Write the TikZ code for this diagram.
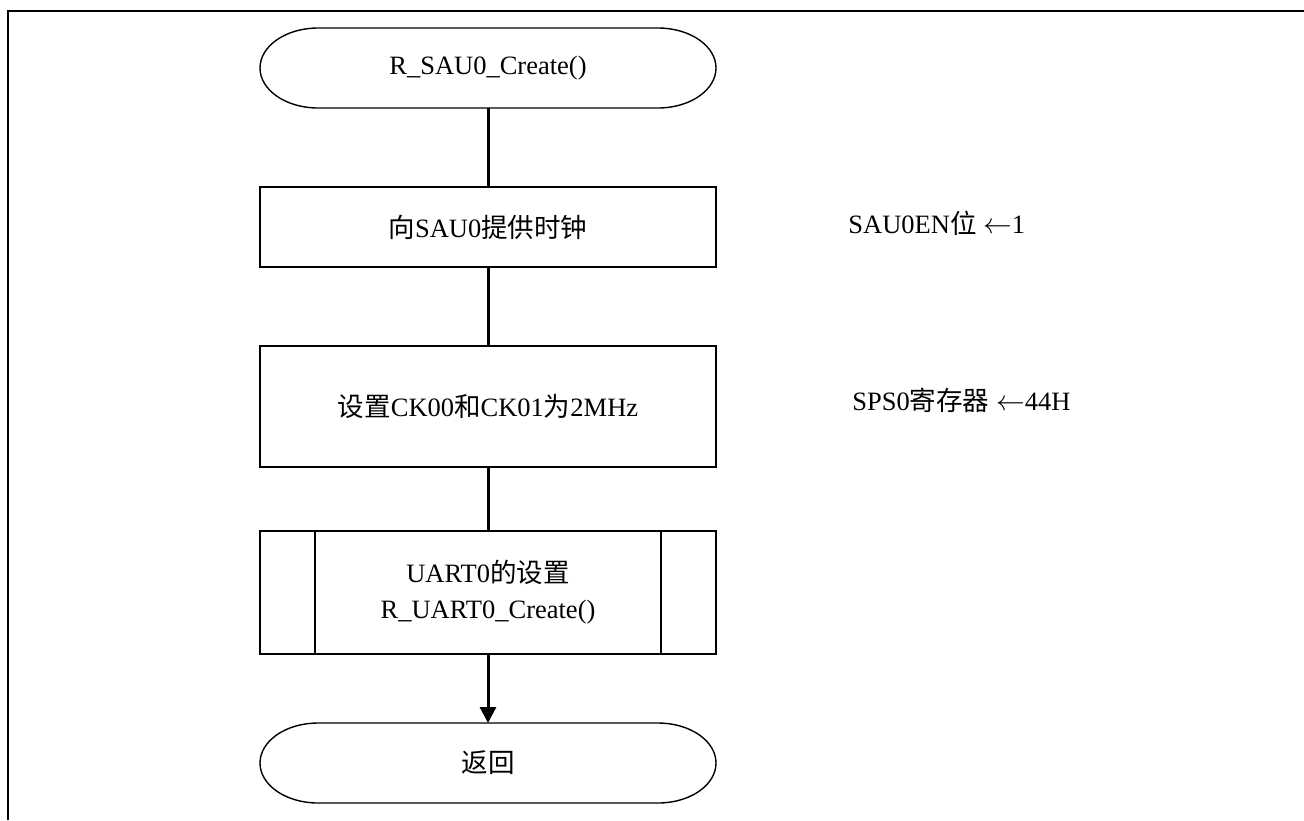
\documentclass[tikz,border=0pt]{standalone}
\usepackage{fontspec}
\setmainfont{Liberation Serif}
\newfontfamily\cjk{Noto Sans CJK SC}
\usetikzlibrary{arrows.meta}

\tikzset{
  block/.style={draw, line width=0.7pt, minimum width=228pt, inner sep=0pt, outer sep=0pt},
  term/.style={minimum width=228pt, minimum height=40pt, inner sep=0pt, outer sep=0pt},
  note/.style={anchor=west, inner sep=0pt}
}

\begin{document}
\begin{tikzpicture}[x=0.5pt, y=-0.5pt, font=\fontsize{13.25}{18}\selectfont]
  \useasboundingbox (0,0) rectangle (1304,820);
  \draw[line width=1pt] (8,820) -- (8,11) -- (1304,11);
  \node[term] (start) at (488,68) {R\_SAU0\_Create()};
  \node[block, minimum height=40pt] (clk) at (488,227) {{\cjk 向}SAU0{\cjk 提供时钟}};
  \node[block, minimum height=60.5pt] (sps) at (488,406.5) {{\cjk 设置}CK00{\cjk 和}CK01{\cjk 为}2MHz};
  \node[block, minimum height=61.5pt, align=center] (uart) at (488,592.5) {UART0{\cjk 的设置}\\R\_UART0\_Create()};
  \node[term] (ret) at (488,763) {{\cjk 返回}};
  \node[note] (n1) at (848,223) {SAU0EN{\cjk 位} $\leftarrow$1};
  \node[note] (n2) at (852,400) {SPS0{\cjk 寄存器} $\leftarrow$44H};
  \foreach \t in {start,ret}
    \draw[line width=0.7pt] ([xshift=29pt]\t.north west) -- ([xshift=-29pt]\t.north east)
      arc[start angle=90, end angle=-90, x radius=29pt, y radius=20pt]
      -- ([xshift=29pt]\t.south west)
      arc[start angle=270, end angle=90, x radius=29pt, y radius=20pt] -- cycle;
  \draw[line width=0.7pt] ([xshift=27.5pt]uart.north west) -- ([xshift=27.5pt]uart.south west)
    ([xshift=-27.5pt]uart.north east) -- ([xshift=-27.5pt]uart.south east);
  \path[line width=1.5pt]
    (start) edge (clk)
    (clk) edge (sps)
    (sps) edge (uart)
    (uart) edge[-{Triangle[length=8pt,width=8pt]}] (ret);
\end{tikzpicture}
\end{document}
